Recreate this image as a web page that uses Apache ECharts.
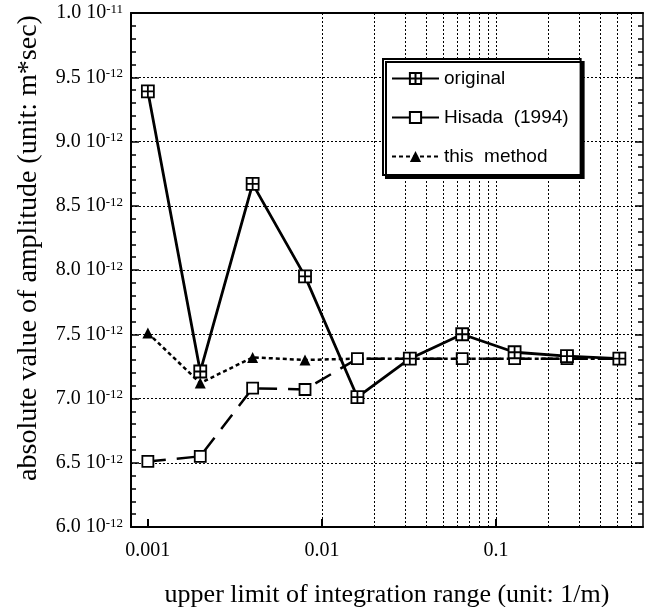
<!doctype html>
<html>
<head>
<meta charset="utf-8">
<title>amplitude vs integration range</title>
<script src="https://cdn.jsdelivr.net/npm/echarts@6/dist/echarts.min.js"></script>
<style>
  html, body { margin: 0; padding: 0; background: #fff; }
  #main { width: 646px; height: 607px; }
</style>
</head>
<body>
<div id="main"></div>
<script type="text/javascript">
// upper limit of integration range (1/m)
var xValues = [0.001, 0.002, 0.004, 0.008, 0.016, 0.032, 0.064, 0.128, 0.256, 0.512];
// absolute value of amplitude, in units of 1e-12 m*sec
var original = [9.39, 7.21, 8.67, 7.95, 7.01, 7.31, 7.50, 7.36, 7.33, 7.31];
var hisada = [6.51, 6.55, 7.08, 7.07, 7.31, 7.31, 7.31, 7.31, 7.31, 7.31];
var thisMethod = [7.51, 7.12, 7.32, 7.30, 7.31, 7.31, 7.31, 7.31, 7.31, 7.31];
var xMajorLabels = ['0.001', '0.01', '0.1'];
var seriesNames = ['original', 'Hisada  (1994)', 'this  method'];

var xMin = 0.0008, xMax = 0.7;

function pairs(ys) {
  return xValues.map(function (x, i) { return [x, ys[i]]; });
}

// dotted log grid lines: 1..9 in every decade inside the range
var gridLines = [];
[0.0001, 0.001, 0.01, 0.1].forEach(function (d) {
  for (var k = 1; k <= 9; k++) {
    var v = +(d * k).toPrecision(3);
    if (v > xMin * 1.001 && v < xMax * 0.999) gridLines.push({ xAxis: v });
  }
});

var serif = 'Liberation Serif, Times New Roman, serif';
var sans = 'Liberation Sans, Arial, sans-serif';
var crossSquare = 'path://M0 0H10V10H0Z M5 0V10 M0 5H10';

var myChart = echarts.init(document.getElementById('main'));

var option = {
  animation: false,
  backgroundColor: '#fff',
  grid: { left: 131, right: 3, top: 13, bottom: 80, outerBoundsMode: 'none', containLabel: false },
  legend: {
    orient: 'vertical',
    left: 383,
    top: 59,
    z: 20,
    padding: [10, 12, 9, 8],
    itemWidth: 47,
    itemHeight: 14,
    itemGap: 20,
    backgroundColor: '#fff',
    borderColor: '#000',
    borderWidth: 2,
    shadowColor: '#000',
    shadowOffsetX: 3,
    shadowOffsetY: 3,
    shadowBlur: 0,
    textStyle: { fontFamily: sans, fontSize: 19, color: '#000' },
    data: seriesNames
  },
  xAxis: [{
    type: 'log',
    min: xMin,
    max: xMax,
    name: 'upper limit of integration range (unit: 1/m)',
    nameLocation: 'middle',
    nameGap: 55,
    nameTextStyle: { fontFamily: serif, fontSize: 26, color: '#000' },
    axisLine: { lineStyle: { color: '#000', width: 2 } },
    axisTick: { show: true, inside: true, length: 8, lineStyle: { color: '#000', width: 2 } },
    axisLabel: {
      margin: 14,
      fontFamily: serif, fontSize: 20, color: '#000',
      showMinLabel: false, showMaxLabel: false,
      formatter: function (v) {
        var e = Math.log10(v);
        if (Math.abs(e - Math.round(e)) > 1e-6) return '';
        var s = xMajorLabels[Math.round(e) + 3];
        return s || '';
      }
    },
    splitLine: { show: false }
  }, {
    type: 'log',
    position: 'top',
    min: xMin,
    max: xMax,
    axisLine: { show: true, lineStyle: { color: '#000', width: 2 } },
    axisTick: { show: false },
    axisLabel: { show: false },
    splitLine: { show: false }
  }],
  yAxis: [{
    type: 'value',
    min: 6,
    max: 10,
    interval: 0.5,
    name: 'absolute value of amplitude (unit: m*sec)',
    nameLocation: 'middle',
    nameGap: 88,
    nameTextStyle: { fontFamily: serif, fontSize: 28, color: '#000', padding: [0, 0, 0, 44] },
    axisLine: { show: true, lineStyle: { color: '#000', width: 2 } },
    axisTick: { show: true, inside: true, length: 8, lineStyle: { color: '#000', width: 1.5 } },
    minorTick: { show: true, splitNumber: 5, length: 5, lineStyle: { color: '#000', width: 1.5 } },
    axisLabel: {
      margin: 8,
      fontFamily: serif, fontSize: 20, color: '#000',
      formatter: function (v) {
        if (Math.abs(v - 10) < 1e-9) return '1.0 10{sup|-11}';
        return v.toFixed(1) + ' 10{sup|-12}';
      },
      rich: {
        sup: { fontFamily: serif, fontSize: 13, color: '#000', verticalAlign: 'top', lineHeight: 14, padding: [0, 0, 8, 0] }
      }
    },
    splitLine: { show: true, lineStyle: { color: '#000', width: 1, type: [2, 2] } }
  }, {
    type: 'value',
    position: 'right',
    min: 6,
    max: 10,
    interval: 0.5,
    axisLine: { show: true, lineStyle: { color: '#000', width: 1.5 } },
    axisTick: { show: true, inside: true, length: 8, lineStyle: { color: '#000', width: 1.5 } },
    minorTick: { show: true, splitNumber: 5, length: 5, lineStyle: { color: '#000', width: 1.5 } },
    axisLabel: { show: false },
    splitLine: { show: false }
  }],
  series: [{
    name: seriesNames[2],
    type: 'line',
    data: pairs(thisMethod),
    symbol: 'triangle',
    symbolSize: 11,
    itemStyle: { color: '#000' },
    lineStyle: { color: '#000', width: 2.5, type: [4, 3] },
    emphasis: { disabled: true },
    z: 3,
    markLine: {
      silent: true,
      symbol: ['none', 'none'],
      label: { show: false },
      lineStyle: { color: '#000', width: 1, type: [2, 2] },
      emphasis: { disabled: true },
      data: gridLines
    }
  }, {
    name: seriesNames[1],
    type: 'line',
    data: pairs(hisada),
    symbol: 'rect',
    symbolSize: 11,
    itemStyle: { color: '#fff', borderColor: '#000', borderWidth: 1.8 },
    lineStyle: { color: '#000', width: 2.5, type: [18, 11] },
    emphasis: { disabled: true },
    z: 4
  }, {
    name: seriesNames[0],
    type: 'line',
    data: pairs(original),
    symbol: crossSquare,
    symbolSize: 12,
    symbolKeepAspect: true,
    itemStyle: { color: '#fff', borderColor: '#000', borderWidth: 1.8 },
    lineStyle: { color: '#000', width: 2.8 },
    emphasis: { disabled: true },
    z: 5
  }]
};

myChart.setOption(option);
</script>
</body>
</html>
